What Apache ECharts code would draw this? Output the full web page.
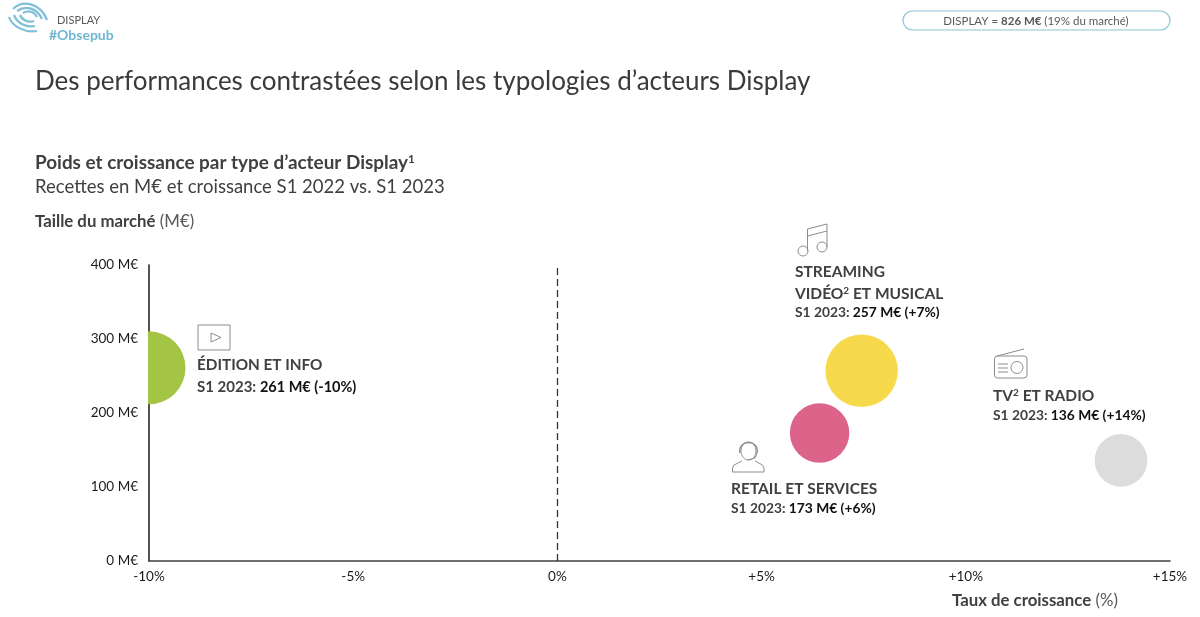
<!DOCTYPE html>
<html><head><meta charset="utf-8">
<style>html,body{margin:0;padding:0;background:#fff}#c{width:1200px;height:617px}</style>
<script src="https://cdn.jsdelivr.net/npm/echarts@6/dist/echarts.min.js"></script>
</head><body><div id="c"></div>
<script>
const segments = ['ÉDITION ET INFO','STREAMING VIDÉO ET MUSICAL','RETAIL ET SERVICES','TV ET RADIO'];
const growth = [-10, 7.45, 6.42, 13.8];
const revenue = [261, 257, 173, 136];
const colors = ['#a3c444','#f7d94c','#dc6389','#dcdcdc'];
const xTicks = ['-10%','-5%','0%','+5%','+10%','+15%'];
const F = 'Lato, "Open Sans", sans-serif';
const DK='#404040', IC='#8c8c8c', BL='#7fc0d8';

function t(x,y,text,size,opt){opt=opt||{};return {type:'text',x:x,y:y,style:{text:text,font:(opt.w||'normal')+' '+size+'px '+F,fill:opt.c||DK,textAlign:opt.a||'left',textVerticalAlign:'middle',rich:opt.rich}};}
function ln(pts,c,w){return {type:'polyline',shape:{points:pts},style:{stroke:c||IC,lineWidth:w||1,fill:null}};}
function circ(x,y,r){return {type:'circle',shape:{cx:x,cy:y,r:r},style:{stroke:IC,lineWidth:1,fill:null}};}
function bz(a,b,c,d,w){return {type:'bezierCurve',shape:{x1:a[0],y1:a[1],cpx1:b[0],cpy1:b[1],cpx2:c[0],cpy2:c[1],x2:d[0],y2:d[1]},style:{stroke:w&&w.c||BL,lineWidth:2.2,fill:null}};}
const sline=(x,y,txt,s1,s2)=>({type:'text',x:x,y:y,style:{text:'S1 2023: {k|'+txt+'}',font:'bold '+s1+'px '+F,fill:DK,textVerticalAlign:'middle',rich:{k:{fontWeight:'bold',fontSize:s2,fontFamily:F,fill:'#111'}}}});
const pair=(x,y,b,r,s)=>({type:'text',x:x,y:y,style:{text:'{b|'+b+'} '+r,font:s+'px '+F,fill:'#595959',textVerticalAlign:'middle',rich:{b:{fontWeight:'bold',fontSize:s,fontFamily:F,fill:DK}}}});

const sup = s=>({sup:{fontSize:s,verticalAlign:'top',padding:[0,0,6,0],fontFamily:F,fontWeight:'bold',fill:DK}});
const g = [
  // logo
  bz([13,9],[22,0],[40,2],[47,20]), bz([17,11],[26,5],[37,8],[42,19]), bz([23,13],[29,10],[34,12],[37,17]),
  bz([9,17],[12,26],[24,33],[37,31]), bz([14,15],[17,23],[26,28],[35,26]), bz([20,15],[22,20],[28,23],[34,21]),
  t(57,20,'DISPLAY',11,{c:'#595959'}),
  t(49,35,'#Obsepub',14,{w:'bold',c:'#6fb6d2'}),
  // pill
  {type:'rect',shape:{x:903,y:11,width:267,height:19,r:9.5},style:{stroke:'#8cc6d8',lineWidth:1.2,fill:'#fff'}},
  {type:'text',x:1036,y:21,style:{text:'DISPLAY = {b|826 M€} (19% du marché)',font:'11.5px '+F,fill:'#595959',textAlign:'center',textVerticalAlign:'middle',rich:{b:{fontWeight:'bold',fontSize:11.5,fontFamily:F,fill:'#595959'}}}},
  // headings
  t(35,82,'Des performances contrastées selon les typologies d’acteurs Display',26,{c:'#3b3b3b'}),
  {type:'text',x:35,y:163,style:{text:'Poids et croissance par type d’acteur Display{sup|1}',font:'bold 18.9px '+F,fill:DK,textVerticalAlign:'middle',rich:sup(11.5)}},
  t(35,187,'Recettes en M€ et croissance S1 2022 vs. S1 2023',18.5,{c:'#404040'}),
  pair(35,222,'Taille du marché','(M€)',16.8),
  pair(952,601,'Taux de croissance','(%)',16.8),
  // Edition
  t(197,365,'ÉDITION ET INFO',15.3,{w:'bold'}),
  sline(197,387,'261 M€ (-10%)',15,14.5),
  {type:'rect',shape:{x:198,y:325,width:32,height:25},style:{stroke:IC,lineWidth:1,fill:null}},
  {type:'polygon',shape:{points:[[211,333],[221,337.5],[211,342]]},style:{stroke:IC,lineWidth:1,fill:null}},
  // Streaming
  t(795,272,'STREAMING',15.5,{w:'bold'}),
  {type:'text',x:795,y:294,style:{text:'VIDÉO{sup|2} ET MUSICAL',font:'bold 15.5px '+F,fill:DK,textVerticalAlign:'middle',rich:sup(10)}},
  sline(795,313,'257 M€ (+7%)',13.8,13.8),
  ln([[807.5,251],[807.5,229],[827,224],[827,247]]), ln([[807.5,236],[827,231]]), circ(803,251,5), circ(822,247,5),
  // Retail
  t(731,489,'RETAIL ET SERVICES',15.5,{w:'bold'}),
  sline(731,509,'173 M€ (+6%)',13.8,13.8),
  {type:'ellipse',shape:{cx:748.5,cy:451,rx:7.5,ry:9},style:{stroke:IC,lineWidth:1,fill:null}},
  {type:'bezierCurve',shape:{x1:740,y1:453,cpx1:737,cpy1:439,cpx2:760,cpy2:439,x2:757,y2:453},style:{stroke:IC,lineWidth:1.4,fill:null}},
  ln([[757,453],[755,458],[748,460]]),
  ln([[742,461],[734,465],[732.5,468],[732.5,472],[764,472],[764,468],[762.5,465],[755,461]]),
  // TV
  {type:'text',x:993,y:396,style:{text:'TV{sup|2} ET RADIO',font:'bold 15.5px '+F,fill:DK,textVerticalAlign:'middle',rich:sup(10)}},
  sline(993,416,'136 M€ (+14%)',13.8,13.8),
  {type:'rect',shape:{x:994.5,y:356,width:32.5,height:22,r:3},style:{stroke:IC,lineWidth:1,fill:null}},
  ln([[997,356],[1024,349]]), circ(1017,367.5,6), ln([[998,364],[1008,364]]), ln([[998,368],[1008,368]]), ln([[998,372],[1008,372]])
];

const chart = echarts.init(document.getElementById('c'), null, {renderer:'canvas'});
chart.setOption({
  animation:false,
  textStyle:{fontFamily:F},
  grid:{left:149,right:30,top:265,bottom:56,containLabel:false},
  xAxis:{type:'value',min:-10,max:15,interval:5,splitLine:{show:false},
    axisLine:{show:true,onZero:false,lineStyle:{color:'#404040',width:1.5}},axisTick:{show:false},
    axisLabel:{margin:9,fontSize:13.5,color:'#1a1a1a',fontFamily:F,hideOverlap:false,showMinLabel:true,showMaxLabel:true,
      formatter:(v)=>xTicks[(v+10)/5]}},
  yAxis:{type:'value',min:0,max:400,interval:100,splitLine:{show:false},
    axisLine:{show:true,onZero:false,lineStyle:{color:'#1a1a1a',width:1.5}},axisTick:{show:false},
    axisLabel:{margin:11,fontSize:13.5,color:'#1a1a1a',fontFamily:F,padding:[2,0,0,0],formatter:'{value} M€'}},
  series:[{
    type:'custom',clip:true,
    lineStyle:{width:1.6},
    encode:{x:0,y:1},
    data:growth.map((g,i)=>[g,revenue[i]]),
    renderItem:(params,api)=>{
      const p=api.coord([api.value(0),api.value(1)]);
      const r=2.26*Math.sqrt(api.value(1));
      return {type:'circle',shape:{cx:p[0],cy:p[1],r:r},style:{fill:colors[params.dataIndex]}};
    },
    markLine:{silent:true,symbol:'none',label:{show:false},lineStyle:{type:[7,4],color:'#333',width:1.3},data:[{xAxis:0}]}
  }],
  graphic:{elements:g}
});
</script></body></html>
